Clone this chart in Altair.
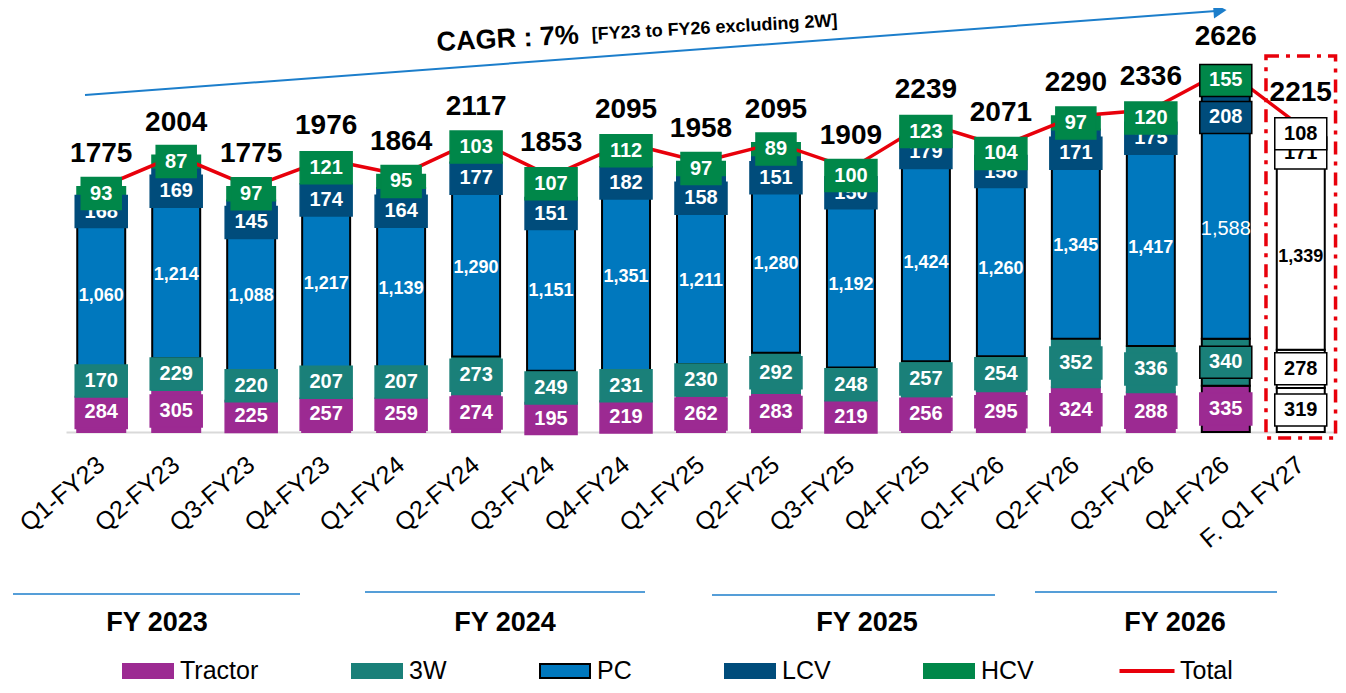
import altair as alt
import pandas as pd

# ---------------- data ----------------
quarters = ["Q1-FY23", "Q2-FY23", "Q3-FY23", "Q4-FY23",
            "Q1-FY24", "Q2-FY24", "Q3-FY24", "Q4-FY24",
            "Q1-FY25", "Q2-FY25", "Q3-FY25", "Q4-FY25",
            "Q1-FY26", "Q2-FY26", "Q3-FY26", "Q4-FY26", "F. Q1 FY27"]
tractor = [284, 305, 225, 257, 259, 274, 195, 219, 262, 283, 219, 256, 295, 324, 288, 335, 319]
three_w = [170, 229, 220, 207, 207, 273, 249, 231, 230, 292, 248, 257, 254, 352, 336, 340, 278]
pc = [1060, 1214, 1088, 1217, 1139, 1290, 1151, 1351, 1211, 1280, 1192, 1424, 1260, 1345, 1417, 1588, 1339]
lcv = [168, 169, 145, 174, 164, 177, 151, 182, 158, 151, 150, 179, 158, 171, 175, 208, 171]
hcv = [93, 87, 97, 121, 95, 103, 107, 112, 97, 89, 100, 123, 104, 97, 120, 155, 108]
totals = [1775, 2004, 1775, 1976, 1864, 2117, 1853, 2095, 1958, 2095, 1909, 2239, 2071, 2290, 2336, 2626, 2215]
series_names = ["Tractor", "3W", "PC", "LCV", "HCV"]
total_name = "Total"
fy_labels = ["FY 2023", "FY 2024", "FY 2025", "FY 2026"]
cagr_title = "CAGR : 7%"
cagr_note = "[FY23 to FY26 excluding 2W]"
forecast_label = quarters[-1]
highlight_label = "Q4-FY26"

# ---------------- style ----------------
FONT = "Liberation Sans, Arial, sans-serif"
FILL = ["#9C2A92", "#1A8079", "#0078BE", "#004C7B", "#008749"]
STROKE = ["#9C2A92", "#1A8079", "#000000", "#004C7B", "#008749"]
RED = "#E8000B"
BLUE = "#1C7ECB"
OX, OY = 66, 25  # page offset of the plot area
# quarters whose LCV label box sits just below the HCV box (label layout style)
LCV_PUSHED = ["Q2-FY23", "Q3-FY23", "Q4-FY23", "Q1-FY24", "Q2-FY24", "Q3-FY24",
              "Q4-FY24", "Q1-FY25", "Q2-FY25", "Q2-FY26", "Q4-FY26"]
LCV_PUSH_PX = 12


def px(v):
    return v - OX


def py(v):
    return v - OY


P3 = "M-1.625,-1L1.625,-1L1.625,1L-1.625,1Z"
P2 = "M-1.25,-1L1.25,-1L1.25,1L-1.25,1Z"
LEG_RECT = "M-1,-0.28L1,-0.28L1,0.28L-1,0.28Z"
LEG_LINE = "M-1.1,0L1.1,0"
LEG_Y = 670

rows = []
for i, q in enumerate(quarters):
    for j, (s, arr) in enumerate(zip(series_names, [tractor, three_w, pc, lcv, hcv])):
        rows.append(dict(quarter=q, series=s, value=arr[i], order=j,
                         forecast=(q == forecast_label), hl=(q == highlight_label),
                         pushed=(s == "LCV" and q in LCV_PUSHED),
                         label=f"{arr[i]:,}"))
df = pd.DataFrame(rows)
tot_df = pd.DataFrame({"quarter": quarters, "total": totals})

yscale = alt.Scale(domain=[0, 2950])
X = alt.X("quarter:N", sort=quarters,
          scale=alt.Scale(paddingInner=0.36, paddingOuter=0.15),
          axis=alt.Axis(title=None, labelAngle=-40, labelFontSize=25, labelFont=FONT,
                        labelColor="black", ticks=False, labelPadding=29,
                        domainColor="#D9D9D9", domainWidth=2,
                        labelAlign="right", labelBaseline="middle"))

seg_legend = alt.Legend(orient="none", legendX=px(122), legendY=py(LEG_Y) - 25,
                        direction="horizontal", title=None, symbolType=LEG_RECT,
                        symbolSize=2500, symbolStrokeWidth=2, symbolOpacity=1,
                        labelFontSize=25, labelFont=FONT, labelColor="black",
                        labelOffset=6, columnPadding=89, padding=0)

bars = alt.Chart(df).mark_bar(strokeWidth=2).encode(
    x=X,
    y=alt.Y("value:Q", stack="zero", scale=yscale, axis=None),
    order=alt.Order("order:Q", sort="ascending"),
    fill=alt.condition("datum.forecast", alt.value("white"),
                       alt.Fill("series:N", scale=alt.Scale(domain=series_names, range=FILL),
                                legend=seg_legend)),
    stroke=alt.condition("datum.forecast || datum.hl", alt.value("black"),
                         alt.Stroke("series:N", scale=alt.Scale(domain=series_names, range=STROKE),
                                    legend=seg_legend)),
)

frame = alt.Chart(pd.DataFrame({"quarter": [forecast_label]})).mark_bar(
    width=alt.RelativeBandSize(1.45), fill="transparent", stroke=RED,
    strokeWidth=3.5, strokeDash=[13, 7, 4, 7]
).encode(x=X, y=alt.value(py(56)), y2=alt.value(py(438)))

line = alt.Chart(tot_df).transform_calculate(name=f"'{total_name}'").mark_line(strokeWidth=3.5).encode(
    x=X,
    y=alt.Y("total:Q", scale=yscale, axis=None),
    color=alt.Color("name:N", scale=alt.Scale(domain=[total_name], range=[RED]),
                    legend=alt.Legend(orient="none", legendX=px(1120), legendY=py(LEG_Y) - 26,
                                      title=None, symbolType=LEG_LINE, symbolSize=2500,
                                      symbolStrokeWidth=4, labelFontSize=25, labelFont=FONT,
                                      labelColor="black", labelOffset=6, padding=0)),
)

lab = alt.Chart(df).transform_stack(
    stack="value", groupby=["quarter"], as_=["v0", "v1"],
    sort=[alt.SortField("order", order="ascending")]
).transform_calculate(mid="(datum.v0 + datum.v1) / 2")

Ymid = alt.Y("mid:Q", scale=yscale, axis=None)

pc_text = lab.transform_filter(
    f"datum.series == 'PC' && datum.quarter != '{highlight_label}'"
).mark_text(font=FONT, fontSize=18, fontWeight="bold").encode(
    x=X, y=Ymid, text="label:N",
    color=alt.condition("datum.forecast", alt.value("black"), alt.value("white")))

pc_text_hl = lab.transform_filter(
    f"datum.series == 'PC' && datum.quarter == '{highlight_label}'"
).mark_text(font=FONT, fontSize=20, fontWeight="normal", color="white").encode(
    x=X, y=Ymid, text="label:N")

layers = [frame, bars, line, pc_text, pc_text_hl]


def box_layers(sub, col, yoff):
    box = sub.mark_point(filled=True, opacity=1, size=1024, strokeWidth=1.5, yOffset=yoff).encode(
        x=X, y=Ymid,
        fill=alt.condition("datum.forecast", alt.value("white"), alt.value(col)),
        stroke=alt.condition("datum.forecast || (datum.hl && datum.series != 'Tractor')",
                             alt.value("black"), alt.value(col)),
        shape=alt.condition("datum.value < 100", alt.value(P2), alt.value(P3)),
    )
    txt = sub.mark_text(font=FONT, fontSize=20, fontWeight="bold", yOffset=yoff).encode(
        x=X, y=Ymid, text="label:N",
        color=alt.condition("datum.forecast", alt.value("black"), alt.value("white")))
    return [box, txt]


for s, col in zip(series_names, FILL):
    if s == "PC":
        continue
    sub = lab.transform_filter(f"datum.series == '{s}'")
    if s == "LCV":
        layers += box_layers(sub.transform_filter("!datum.pushed"), col, 0)
        layers += box_layers(sub.transform_filter("datum.pushed"), col, LCV_PUSH_PX)
    else:
        layers += box_layers(sub, col, 0)

total_text = alt.Chart(tot_df).mark_text(
    font=FONT, fontSize=28, fontWeight="bold", baseline="alphabetic", dy=-25, color="black"
).encode(x=X, y=alt.Y("total:Q", scale=yscale, axis=None), text="total:Q")
layers.append(total_text)

# CAGR arrow and text
one = pd.DataFrame({"t": [cagr_title], "n": [cagr_note]})
arrow = alt.Chart(one).mark_rule(color=BLUE, strokeWidth=2).encode(
    x=alt.value(px(85)), x2=alt.value(px(1216)), y=alt.value(py(95)), y2=alt.value(py(11)))
head = alt.Chart(one).mark_point(shape="triangle-right", filled=True, size=230, opacity=1,
                                 angle=355.7, color=BLUE).encode(
    x=alt.value(px(1220)), y=alt.value(py(10.5)))
cagr1 = alt.Chart(one).mark_text(font=FONT, fontSize=27, fontWeight="bold", align="left",
                                 baseline="alphabetic", angle=357, color="black").encode(
    text="t:N", x=alt.value(px(437)), y=alt.value(py(51)))
cagr2 = alt.Chart(one).mark_text(font=FONT, fontSize=18, fontWeight="bold", align="left",
                                 baseline="alphabetic", angle=356.8, color="black").encode(
    text="n:N", x=alt.value(px(592)), y=alt.value(py(40)))
layers += [arrow, head, cagr1, cagr2]

# fiscal-year group lines and labels
FY_POS = [(13, 300, 594, 157), (365, 645, 592, 505), (712, 995, 595, 867), (1035, 1277, 592, 1175)]
for lbl, (x1, x2, yl, xc) in zip(fy_labels, FY_POS):
    d = pd.DataFrame({"t": [lbl]})
    layers.append(alt.Chart(d).mark_rule(color=BLUE, strokeWidth=1.5).encode(
        x=alt.value(px(x1)), x2=alt.value(px(x2)), y=alt.value(py(yl))))
    layers.append(alt.Chart(d).mark_text(font=FONT, fontSize=27, fontWeight="bold",
                                         baseline="alphabetic", color="black").encode(
        text="t:N", x=alt.value(px(xc)), y=alt.value(py(631))))

chart = alt.layer(*layers).properties(
    width=1270, height=407,
    padding={"left": 58, "top": 17, "right": 2, "bottom": 253},
    autosize=alt.AutoSizeParams(type="none"),
    background="white",
).configure_view(stroke=None)

chart.save("out.html", embed_options={"renderer": "svg", "actions": False})
